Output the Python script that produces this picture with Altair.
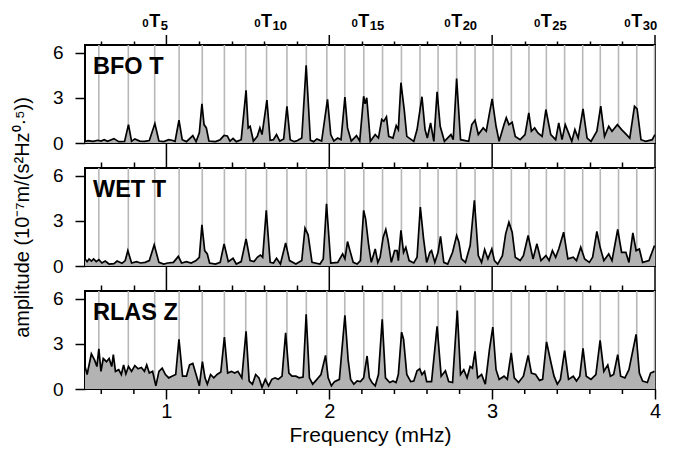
import altair as alt
import pandas as pd

# Fundamental toroidal mode frequencies 0T3 ... 0T31 (mHz)
mode_f = [0.585, 0.766, 0.928, 1.078, 1.220, 1.356, 1.487, 1.615, 1.740, 1.859,
          1.985, 2.095, 2.212, 2.327, 2.443, 2.557, 2.668, 2.782, 2.895, 3.006,
          3.118, 3.226, 3.333, 3.445, 3.556, 3.664, 3.776, 3.888, 3.997]

# Top labels 0T5, 0T10, ...
label_f = [0.928, 1.615, 2.212, 2.782, 3.333, 3.888]
label_n = ["5", "10", "15", "20", "25", "30"]

minor_ticks = [0.6, 0.8, 1.2, 1.4, 1.6, 1.8, 2.2, 2.4, 2.6, 2.8, 3.2, 3.4, 3.6, 3.8]
major_ticks = [1, 2, 3, 4]

# (frequency mHz, amplitude) spectra
bfo = [(0.500,0.11),(0.519,0.16),(0.549,0.11),(0.579,0.18),(0.598,0.13),(0.618,0.22),(0.638,0.11),
       (0.678,0.29),(0.707,0.09),(0.743,0.11),(0.767,1.22),(0.786,0.11),(0.806,0.27),(0.836,0.13),
       (0.865,0.11),(0.895,0.16),(0.929,1.29),(0.954,0.13),(0.984,0.09),(1.014,0.22),(1.034,0.18),
       (1.053,0.11),(1.077,1.51),(1.097,0.22),(1.123,0.09),(1.162,0.49),(1.182,0.09),(1.202,0.67),
       (1.218,2.60),(1.231,1.22),(1.245,1.00),(1.261,0.13),(1.301,0.09),(1.330,0.22),(1.354,0.51),
       (1.374,0.47),(1.390,0.13),(1.409,0.31),(1.429,0.09),(1.459,0.22),(1.489,3.49),(1.502,1.00),
       (1.514,1.11),(1.534,0.13),(1.558,0.44),(1.574,1.00),(1.587,0.56),(1.617,2.84),(1.637,0.18),
       (1.657,0.22),(1.676,0.56),(1.696,0.13),(1.720,0.27),(1.740,2.44),(1.760,0.22),(1.785,0.09),
       (1.805,0.16),(1.831,0.33),(1.858,5.16),(1.884,0.18),(1.904,0.09),(1.924,0.27),(1.953,0.13),
       (1.989,2.89),(2.009,0.56),(2.028,0.13),(2.052,0.33),(2.072,0.22),(2.096,3.04),(2.112,1.00),
       (2.135,0.13),(2.167,0.49),(2.187,0.13),(2.211,3.10),(2.220,2.60),(2.230,3.00),(2.252,0.11),
       (2.282,0.56),(2.302,0.33),(2.322,1.56),(2.335,1.44),(2.351,1.73),(2.365,0.44),(2.391,0.33),
       (2.411,1.16),(2.424,0.89),(2.440,4.00),(2.460,2.22),(2.476,0.44),(2.519,0.11),(2.539,0.89),
       (2.569,3.07),(2.588,0.89),(2.602,0.33),(2.622,1.33),(2.642,0.11),(2.662,3.40),(2.681,1.11),
       (2.707,0.11),(2.747,0.56),(2.761,0.22),(2.782,4.27),(2.806,0.22),(2.856,0.11),(2.875,1.22),
       (2.895,1.51),(2.915,0.56),(2.945,1.00),(2.964,0.78),(2.984,2.00),(3.000,2.93),(3.024,1.11),
       (3.043,0.11),(3.073,1.22),(3.087,1.67),(3.103,1.22),(3.123,1.38),(3.142,0.44),(3.172,0.22),
       (3.202,0.56),(3.225,2.00),(3.241,0.78),(3.261,1.00),(3.281,0.67),(3.307,0.44),(3.330,2.22),
       (3.360,0.56),(3.390,0.22),(3.409,1.33),(3.429,0.22),(3.449,1.22),(3.469,0.67),(3.489,0.11),
       (3.508,0.89),(3.528,0.33),(3.558,2.27),(3.583,0.33),(3.607,0.11),(3.643,0.78),(3.667,2.44),
       (3.690,0.44),(3.716,1.11),(3.736,0.78),(3.769,1.22),(3.795,0.89),(3.825,0.56),(3.845,0.33),
       (3.874,2.44),(3.890,2.27),(3.914,0.22),(3.943,0.11),(3.983,0.22),(4.000,0.56)]

wet = [(0.500,0.47),(0.513,0.29),(0.525,0.47),(0.539,0.33),(0.553,0.47),(0.569,0.29),(0.585,0.42),
       (0.604,0.20),(0.624,0.33),(0.648,0.13),(0.678,0.16),(0.697,0.33),(0.727,0.18),(0.747,0.36),
       (0.763,1.02),(0.786,0.20),(0.816,0.29),(0.842,0.20),(0.869,0.24),(0.895,0.36),(0.925,1.40),
       (0.954,0.24),(0.984,0.13),(1.008,0.20),(1.043,0.24),(1.073,0.64),(1.093,0.20),(1.123,0.29),
       (1.152,0.20),(1.182,0.36),(1.202,0.58),(1.218,2.73),(1.235,1.02),(1.251,0.80),(1.265,0.20),
       (1.301,0.13),(1.330,0.24),(1.354,1.47),(1.380,0.29),(1.409,0.51),(1.429,0.13),(1.459,0.29),
       (1.489,1.80),(1.514,0.36),(1.538,0.29),(1.558,0.58),(1.577,0.73),(1.591,0.58),(1.613,3.69),
       (1.637,0.24),(1.657,0.20),(1.676,0.51),(1.700,0.13),(1.732,1.53),(1.756,0.36),(1.795,0.13),
       (1.831,0.36),(1.851,2.51),(1.870,2.07),(1.894,0.24),(1.943,0.13),(1.963,0.47),(1.983,4.13),
       (2.009,0.20),(2.052,0.24),(2.082,0.80),(2.096,0.47),(2.112,1.62),(2.127,1.02),(2.147,0.24),
       (2.171,0.13),(2.191,0.36),(2.211,3.69),(2.223,3.13),(2.242,1.36),(2.258,0.24),(2.282,1.13),
       (2.298,0.24),(2.312,0.58),(2.331,1.91),(2.347,2.42),(2.361,1.69),(2.381,0.24),(2.401,1.02),
       (2.416,1.02),(2.424,0.36),(2.440,2.36),(2.456,0.91),(2.470,1.24),(2.490,0.36),(2.519,0.20),
       (2.539,0.58),(2.559,3.91),(2.579,1.80),(2.598,0.24),(2.618,0.91),(2.628,1.02),(2.648,0.24),
       (2.668,0.91),(2.683,1.96),(2.703,0.24),(2.727,0.13),(2.757,0.91),(2.782,2.02),(2.796,1.58),
       (2.812,0.47),(2.836,0.24),(2.865,1.36),(2.891,4.36),(2.915,0.69),(2.935,0.24),(2.954,1.09),
       (2.974,0.47),(2.998,1.13),(3.014,0.36),(3.034,0.13),(3.063,0.69),(3.083,2.13),(3.103,2.91),
       (3.123,2.24),(3.142,0.58),(3.172,0.36),(3.192,0.69),(3.221,2.02),(3.251,0.47),(3.275,1.47),
       (3.300,0.36),(3.330,0.69),(3.350,0.36),(3.370,1.02),(3.390,0.58),(3.409,1.13),(3.439,2.24),
       (3.465,0.47),(3.498,0.58),(3.518,0.36),(3.544,1.24),(3.568,0.47),(3.597,0.24),(3.617,0.58),
       (3.643,2.29),(3.663,1.24),(3.686,0.36),(3.716,0.80),(3.736,0.36),(3.771,2.42),(3.795,0.91),
       (3.821,0.91),(3.840,0.24),(3.864,2.20),(3.884,1.02),(3.904,1.13),(3.924,0.24),(3.963,0.36),
       (3.997,1.36)]

rlas = [(0.500,1.49),(0.513,0.96),(0.539,2.34),(0.559,1.91),(0.573,1.49),(0.585,2.66),(0.598,1.17),
        (0.612,2.02),(0.632,1.81),(0.648,2.02),(0.664,1.49),(0.674,2.28),(0.687,1.17),(0.707,1.28),
        (0.723,0.96),(0.737,1.60),(0.751,1.00),(0.767,1.49),(0.786,1.17),(0.806,1.55),(0.826,1.34),
        (0.846,1.43),(0.865,1.17),(0.879,1.60),(0.895,1.06),(0.915,1.17),(0.935,0.21),(0.954,1.17),
        (0.974,1.38),(0.994,0.96),(1.014,0.74),(1.034,0.85),(1.057,0.96),(1.077,3.30),(1.099,0.85),
        (1.123,0.85),(1.142,1.60),(1.162,1.70),(1.182,0.96),(1.202,0.21),(1.221,1.81),(1.237,0.74),
        (1.251,0.32),(1.271,0.96),(1.291,0.74),(1.311,0.96),(1.334,1.13),(1.356,3.45),(1.376,1.06),
        (1.399,1.17),(1.419,1.06),(1.439,1.17),(1.463,0.74),(1.489,3.83),(1.508,0.53),(1.528,0.32),
        (1.548,0.96),(1.568,0.74),(1.587,0.11),(1.607,0.64),(1.627,0.21),(1.647,0.64),(1.667,0.74),
        (1.686,0.64),(1.710,0.85),(1.732,3.72),(1.752,1.06),(1.771,0.85),(1.795,0.85),(1.815,0.74),
        (1.839,0.79),(1.858,4.96),(1.878,0.74),(1.898,0.32),(1.924,0.64),(1.949,0.96),(1.977,2.23),
        (1.993,0.74),(2.013,0.21),(2.032,0.49),(2.062,0.64),(2.096,4.89),(2.116,1.91),(2.131,0.64),
        (2.151,0.32),(2.171,0.53),(2.191,0.49),(2.211,0.74),(2.232,2.19),(2.246,0.74),(2.262,0.43),
        (2.282,0.21),(2.302,0.96),(2.325,4.62),(2.345,0.74),(2.371,0.43),(2.391,0.53),(2.410,0.43),
        (2.424,0.96),(2.444,3.77),(2.456,3.30),(2.476,0.96),(2.500,0.49),(2.519,0.53),(2.539,1.21),
        (2.555,1.34),(2.569,0.96),(2.585,1.17),(2.598,0.49),(2.628,0.49),(2.662,4.15),(2.687,0.85),
        (2.713,1.21),(2.733,0.49),(2.757,0.43),(2.786,5.21),(2.806,0.96),(2.826,1.28),(2.846,0.74),
        (2.865,1.49),(2.879,1.38),(2.895,2.49),(2.911,0.74),(2.935,0.96),(2.958,0.32),(2.984,2.66),
        (3.004,4.11),(3.024,1.28),(3.043,0.64),(3.073,0.85),(3.093,0.64),(3.117,2.40),(3.136,0.74),
        (3.162,0.43),(3.192,0.85),(3.221,2.23),(3.241,1.06),(3.267,0.96),(3.291,0.57),(3.310,0.64),
        (3.334,3.13),(3.360,1.81),(3.380,0.85),(3.400,0.32),(3.419,0.64),(3.445,2.55),(3.469,0.64),
        (3.498,0.85),(3.518,0.53),(3.538,0.85),(3.558,2.70),(3.578,0.85),(3.607,0.64),(3.637,0.96),
        (3.663,3.23),(3.686,1.17),(3.710,1.60),(3.726,0.85),(3.746,0.96),(3.771,2.28),(3.789,0.85),
        (3.815,0.74),(3.840,1.28),(3.884,3.62),(3.904,1.06),(3.924,0.53),(3.953,0.43),(3.973,1.06),
        (3.997,1.17)]

FONT = "Liberation Sans"
W, H = 570, 98
XS = alt.Scale(domain=[0.5, 4.0], nice=False, zero=False)
YS = alt.Scale(domain=[0, 6.5], nice=False, zero=False)

mode_df = pd.DataFrame({"f": mode_f})
minor_df = pd.DataFrame({"f": minor_ticks})
major_df = pd.DataFrame({"f": major_ticks})
lab_df = pd.DataFrame({"f": label_f, "n": label_n, "p": ["0"] * len(label_f)})


def tick_rules(df, y0, y1):
    return alt.Chart(df).mark_rule(color="black", strokeWidth=1.5).encode(
        x=alt.X("f:Q", scale=XS, axis=None), y=alt.value(y0), y2=alt.value(y1)
    )


def panel(pairs, name, top_major, top_minor, bottom=False, ytitle=None, toplabels=False):
    df = pd.DataFrame(pairs, columns=["f", "a"])
    yaxis_kw = dict(values=[0, 3, 6], tickSize=10, tickColor="black", tickWidth=1.5,
                    domain=False, grid=False, labelFontSize=19, labelPadding=12,
                    labelColor="black")
    if ytitle:
        yaxis = alt.Axis(title=ytitle, titleFontSize=20, titleFontWeight="normal",
                         titleColor="black", titlePadding=20, **yaxis_kw)
    else:
        yaxis = alt.Axis(title=None, **yaxis_kw)

    top_axis = alt.Axis(orient="top", values=minor_ticks, tickSize=top_minor, labels=False,
                        domain=False, grid=False, title=None, tickColor="black", tickWidth=1.5)
    modes = alt.Chart(mode_df).mark_rule(color="#b8b8b8", strokeWidth=1.6).encode(
        x=alt.X("f:Q", scale=XS, axis=top_axis)
    )
    if bottom:
        bot_axis = alt.Axis(orient="bottom", values=major_ticks, tickSize=10, labelFontSize=20,
                            labelPadding=2, labelColor="black", labelFlush=False,
                            labelOverlap=False, domain=False, grid=False, tickColor="black",
                            tickWidth=1.5, title="Frequency (mHz)", titleFontSize=21,
                            titleFontWeight="normal", titleColor="black", titlePadding=3)
    else:
        bot_axis = None
    area = alt.Chart(df).mark_area(color="#b3b3b3", clip=True).encode(
        x=alt.X("f:Q", scale=XS, axis=bot_axis),
        y=alt.Y("a:Q", scale=YS, axis=yaxis),
    )
    line = alt.Chart(df).mark_line(color="black", strokeWidth=1.7, clip=True).encode(
        x=alt.X("f:Q", scale=XS, axis=None),
        y=alt.Y("a:Q", scale=YS, axis=yaxis),
    )
    name_df = pd.DataFrame({"t": [name]})
    label = alt.Chart(name_df).mark_text(
        font=FONT, fontSize=23.5, fontWeight="bold", align="left", baseline="alphabetic",
        color="black"
    ).encode(x=alt.value(8), y=alt.value(29), text="t:N")
    layers = [modes, area, line, label, tick_rules(major_df, 0, -top_major)]
    if bottom:
        layers.append(tick_rules(minor_df, H, H + 5))
    if toplabels:
        tT = alt.Chart(lab_df).mark_text(
            text="T", font=FONT, fontSize=18, fontWeight="bold", align="center",
            baseline="alphabetic", color="black"
        ).encode(x=alt.X("f:Q", scale=XS, axis=None), y=alt.value(-18))
        tP = alt.Chart(lab_df).mark_text(
            font=FONT, fontSize=11.5, fontWeight="bold", align="right", dx=-6,
            baseline="alphabetic", color="black"
        ).encode(x=alt.X("f:Q", scale=XS, axis=None), y=alt.value(-18), text="p:N")
        tN = alt.Chart(lab_df).mark_text(
            font=FONT, fontSize=13, fontWeight="bold", align="left", dx=6,
            baseline="alphabetic", color="black"
        ).encode(x=alt.X("f:Q", scale=XS, axis=None), y=alt.value(-15.5), text="n:N")
        layers += [tT, tP, tN]
    return alt.layer(*layers).resolve_axis(x="independent").properties(width=W, height=H)


p1 = panel(bfo, "BFO T", 10, 4, toplabels=True)
p2 = panel(wet, "WET T", 25, 6, ytitle="amplitude (10\u207b\u2077m/(s\u00b2Hz\u2070\u00b7\u2075))")
p3 = panel(rlas, "RLAS Z", 25, 6, bottom=True)

chart = alt.vconcat(p1, p2, p3, spacing=25, bounds="flush").properties(
    padding={"left": 3, "top": 4, "right": 0, "bottom": 0}
).configure(font=FONT).configure_view(stroke="black", strokeWidth=2)

chart.save("out.html", embed_options={"renderer": "svg", "actions": False})
